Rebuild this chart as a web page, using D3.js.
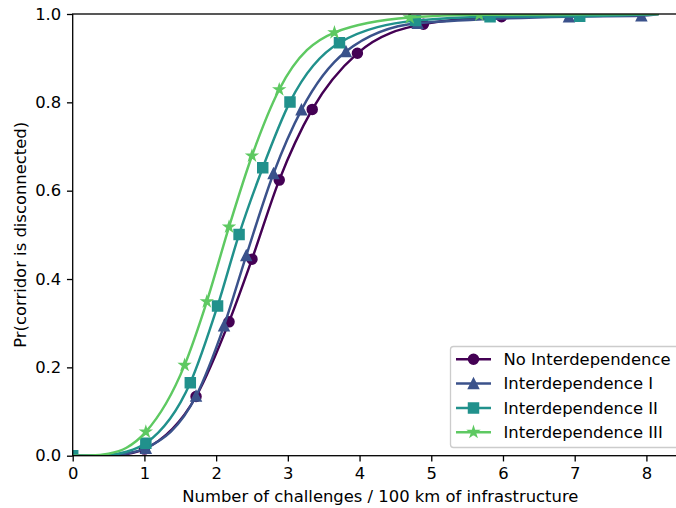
<!doctype html>
<html>
<head>
<meta charset="utf-8">
<style>
  body { margin: 0; background: #fff; }
  svg { display: block; font-family: "DejaVu Sans", sans-serif; }
</style>
<script src="https://d3js.org/d3.v7.min.js"></script>
</head>
<body>
<svg width="676" height="508" class="chart"></svg>
<script>
// series names, in drawing order
var names = ["No Interdependence", "Interdependence I", "Interdependence II", "Interdependence III"];
var colors = ["#440154", "#3b528b", "#21918c", "#5ec962"];
var shapes = ["circle", "triangle", "square", "star"];

// marker points
var noX   = [1.00, 1.72, 2.18, 2.50, 2.88, 3.34, 3.97, 4.89, 5.98];
var noY   = [0.015, 0.134, 0.303, 0.445, 0.624, 0.784, 0.911, 0.977, 0.994];
var oneX  = [1.02, 1.72, 2.11, 2.42, 2.80, 3.19, 3.81, 4.81, 6.92, 7.93];
var oneY  = [0.017, 0.135, 0.294, 0.453, 0.639, 0.783, 0.915, 0.979, 0.994, 0.996];
var twoX  = [0.00, 1.02, 1.64, 2.02, 2.32, 2.65, 3.03, 3.72, 4.78, 5.82, 7.07];
var twoY  = [0.000, 0.028, 0.165, 0.339, 0.501, 0.652, 0.801, 0.935, 0.985, 0.994, 0.995];
var threeX = [1.02, 1.56, 1.87, 2.18, 2.50, 2.88, 3.65, 4.70, 5.67];
var threeY = [0.054, 0.205, 0.349, 0.518, 0.679, 0.829, 0.958, 0.992, 0.998];

// unmarked line points before the first challenge
var leadX = [0, 0.25, 0.5, 0.75];
var leadNoY    = [0, 0.0, 0.0008, 0.004];
var leadOneY   = [0, 0.0, 0.001, 0.005];
var leadTwoY   = [0, 0.0002, 0.0018, 0.009];
var leadThreeY = [0, 0.0004, 0.0045, 0.018];

// every line ends at the end of the sampled range
var lineEnd = [8.17, 1.0];

var xTicks = [0, 1, 2, 3, 4, 5, 6, 7, 8];
var yTicks = [0, 0.2, 0.4, 0.6, 0.8, 1.0];

var allX = [noX, oneX, twoX, threeX];
var allY = [noY, oneY, twoY, threeY];
var allLead = [leadNoY, leadOneY, leadTwoY, leadThreeY];

var svg = d3.select(".chart");
var pL = 72.7, pR = 688, pT = 14, pB = 455.7;
var fs = 16.4;
var k = 1.64; // px per pt

var x = d3.scaleLinear().domain([0, 8.58]).range([pL, pR]);
var y = d3.scaleLinear().domain([0, 1]).range([pB, pT]);

// marker shapes, matplotlib sized (6pt)
var ms = 6 * k;
function markerPath(shape) {
  var r = ms / 2;
  if (shape === "circle") return d3.symbol(d3.symbolCircle, Math.PI * r * r)();
  if (shape === "square") return "M" + (-r) + "," + (-r) + "h" + ms + "v" + ms + "h" + (-ms) + "Z";
  if (shape === "triangle") return "M0," + (-r) + "L" + r + "," + r + "L" + (-r) + "," + r + "Z";
  // five point star
  var pts = [], inner = r * 0.381966;
  for (var i = 0; i < 10; i++) {
    var rr = i % 2 === 0 ? r : inner;
    var a = -Math.PI / 2 + i * Math.PI / 5;
    pts.push([rr * Math.cos(a), rr * Math.sin(a)]);
  }
  return "M" + pts.map(function(p) { return p[0].toFixed(2) + "," + p[1].toFixed(2); }).join("L") + "Z";
}

svg.append("defs").append("clipPath").attr("id", "clip")
   .append("rect").attr("x", pL).attr("y", pT)
   .attr("width", pR - pL).attr("height", pB - pT);
var plot = svg.append("g").attr("clip-path", "url(#clip)");

var line = d3.line()
  .x(function(d) { return x(d[0]); })
  .y(function(d) { return y(d[1]); })
  .curve(d3.curveMonotoneX);

names.forEach(function(name, i) {
  var pts = allX[i].map(function(v, j) { return [v, allY[i][j]]; });
  var lead = leadX.map(function(v, j) { return [v, allLead[i][j]]; });
  var linePts = lead.concat(pts.filter(function(d) { return d[0] > 0.8; }));
  linePts.push(lineEnd);

  plot.append("path")
    .attr("d", line(linePts))
    .attr("fill", "none")
    .attr("stroke", colors[i])
    .attr("stroke-width", 1.5 * k)
    .attr("stroke-linejoin", "round")
    .attr("stroke-linecap", "butt");

  plot.selectAll(".m" + i)
    .data(pts)
    .enter().append("path")
    .attr("class", "m" + i)
    .attr("d", markerPath(shapes[i]))
    .attr("transform", function(d) { return "translate(" + x(d[0]) + "," + y(d[1]) + ")"; })
    .attr("fill", colors[i])
    .attr("stroke", colors[i])
    .attr("stroke-width", 1 * k);
});

// axes
var xAxis = svg.append("g")
  .attr("transform", "translate(0," + pB + ")")
  .call(d3.axisBottom(x).tickValues(xTicks).tickFormat(d3.format("d")).tickSize(3.5 * k).tickPadding(3.5 * k));
var yAxis = svg.append("g")
  .attr("transform", "translate(" + pL + ",0)")
  .call(d3.axisLeft(y).tickValues(yTicks).tickFormat(d3.format(".1f")).tickSize(3.5 * k).tickPadding(3.5 * k));

[xAxis, yAxis].forEach(function(a) {
  a.select(".domain").remove();
  a.selectAll("line").attr("stroke", "#000").attr("stroke-width", 0.8 * k);
  a.selectAll("text").attr("font-size", fs).attr("font-family", "DejaVu Sans").attr("fill", "#000");
});

// spines
svg.append("rect")
  .attr("x", pL).attr("y", pT)
  .attr("width", pR - pL).attr("height", pB - pT)
  .attr("fill", "none").attr("stroke", "#000").attr("stroke-width", 0.8 * k);

svg.append("text")
  .attr("x", (pL + pR) / 2).attr("y", 502)
  .attr("text-anchor", "middle").attr("font-size", fs)
  .text("Number of challenges / 100 km of infrastructure");

svg.append("text")
  .attr("transform", "translate(26," + ((pT + pB) / 2) + ") rotate(-90)")
  .attr("text-anchor", "middle").attr("font-size", fs)
  .text("Pr(corridor is disconnected)");

// legend
var lg = svg.append("g");
lg.append("rect")
  .attr("x", 450.5).attr("y", 346.5)
  .attr("width", 240).attr("height", 101)
  .attr("rx", 3)
  .attr("fill", "#fff").attr("fill-opacity", 0.8)
  .attr("stroke", "#cccccc").attr("stroke-width", 0.8 * k);

names.forEach(function(name, i) {
  var cy = 359.3 + i * 24.3;
  lg.append("line")
    .attr("x1", 456).attr("x2", 491).attr("y1", cy).attr("y2", cy)
    .attr("stroke", colors[i]).attr("stroke-width", 1.5 * k);
  lg.append("path")
    .attr("d", markerPath(shapes[i]))
    .attr("transform", "translate(473.5," + cy + ")")
    .attr("fill", colors[i]).attr("stroke", colors[i]).attr("stroke-width", 1 * k);
  lg.append("text")
    .attr("x", 503.5).attr("y", cy + 5.8)
    .attr("font-size", fs)
    .text(name);
});
</script>
</body>
</html>
